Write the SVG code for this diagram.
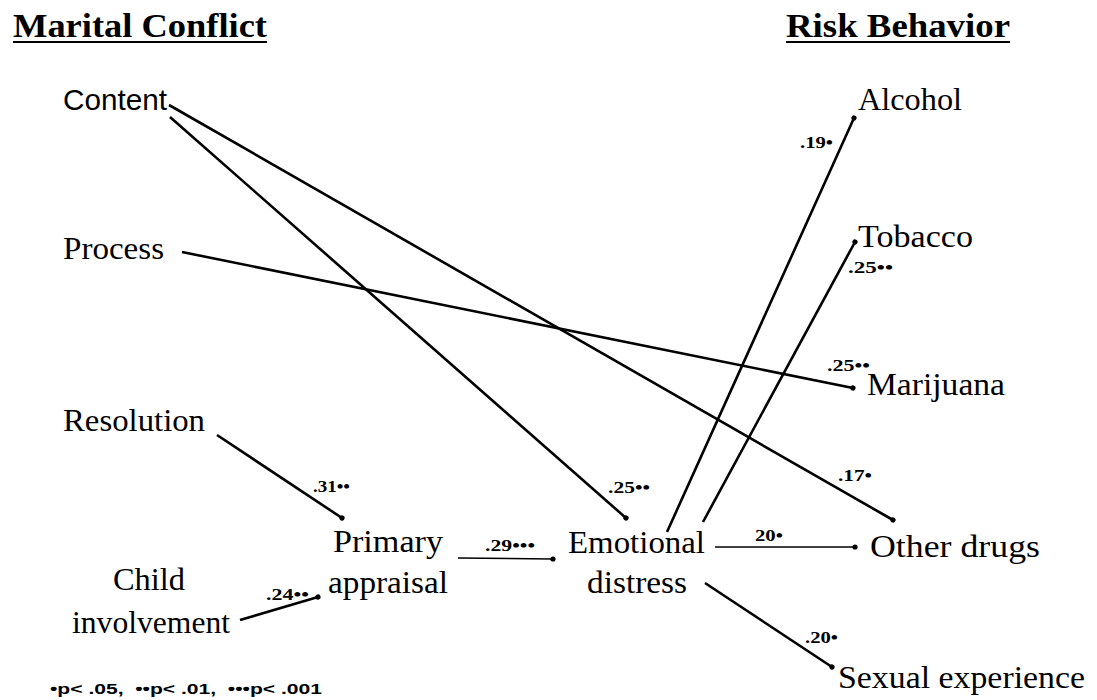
<svg xmlns="http://www.w3.org/2000/svg" width="1097" height="700" viewBox="0 0 1097 700">
<style>
.h{font-family:"Liberation Serif",serif;font-weight:bold;font-size:33px;fill:#000}
.n{font-family:"Liberation Serif",serif;font-size:32px;fill:#000}
.ns{font-family:"Liberation Sans",sans-serif;font-size:29px;fill:#000}
.c{font-family:"Liberation Serif",serif;font-weight:bold;font-size:17px;fill:#000}
.f{font-family:"Liberation Sans",sans-serif;font-weight:bold;font-size:15px;fill:#000}
.thick{stroke:#000;stroke-width:2.6;fill:none;marker-end:url(#dot)}
.thin{stroke:#000;stroke-width:1.6;fill:none;marker-end:url(#dot)}
</style>
<defs>
<marker id="dot" markerUnits="userSpaceOnUse" markerWidth="8" markerHeight="8" refX="4" refY="4" orient="auto">
<circle cx="4" cy="4" r="2.6" fill="#000"/>
</marker>
</defs>
<rect width="1097" height="700" fill="#fff"/>
<g id="heading-marital">
<text class="h" x="13" y="37" textLength="254" lengthAdjust="spacingAndGlyphs">Marital Conflict</text>
<line x1="13" y1="42" x2="267" y2="42" stroke="#000" stroke-width="2"/>
</g>
<g id="heading-risk">
<text class="h" x="786" y="37" textLength="224" lengthAdjust="spacingAndGlyphs">Risk Behavior</text>
<line x1="786" y1="42" x2="1010" y2="42" stroke="#000" stroke-width="2"/>
</g>
<g id="connectors">
<line class="thick" x1="170" y1="117" x2="626" y2="518"/>
<line class="thick" x1="169" y1="105" x2="893" y2="520"/>
<line class="thick" x1="182" y1="252" x2="853" y2="388"/>
<line class="thick" x1="217" y1="435" x2="342" y2="518"/>
<line class="thick" x1="240" y1="620" x2="318" y2="597"/>
<line class="thin" x1="458" y1="558" x2="553" y2="559"/>
<line class="thick" x1="667" y1="532" x2="854" y2="118"/>
<line class="thick" x1="703" y1="522" x2="855" y2="242"/>
<line class="thin" x1="715" y1="547" x2="855" y2="547"/>
<line class="thick" x1="705" y1="583" x2="832" y2="667"/>
</g>
<g id="coefficients">
<text class="c" x="800" y="148" textLength="33" lengthAdjust="spacingAndGlyphs">.19•</text>
<text class="c" x="848" y="273" textLength="45" lengthAdjust="spacingAndGlyphs">.25••</text>
<text class="c" x="827" y="371" textLength="43" lengthAdjust="spacingAndGlyphs">.25••</text>
<text class="c" x="838" y="481" textLength="34" lengthAdjust="spacingAndGlyphs">.17•</text>
<text class="c" x="755" y="541" textLength="28" lengthAdjust="spacingAndGlyphs">20•</text>
<text class="c" x="805" y="643" textLength="33" lengthAdjust="spacingAndGlyphs">.20•</text>
<text class="c" x="313" y="492" textLength="37" lengthAdjust="spacingAndGlyphs">.31••</text>
<text class="c" x="608" y="493" textLength="42" lengthAdjust="spacingAndGlyphs">.25••</text>
<text class="c" x="485" y="551" textLength="50" lengthAdjust="spacingAndGlyphs">.29•••</text>
<text class="c" x="266" y="600" textLength="43" lengthAdjust="spacingAndGlyphs">.24••</text>
</g>
<g id="node-content"><text class="ns" x="63" y="110" textLength="104" lengthAdjust="spacingAndGlyphs">Content</text></g>
<g id="node-process"><text class="n" x="63" y="259" textLength="101" lengthAdjust="spacingAndGlyphs">Process</text></g>
<g id="node-resolution"><text class="n" x="63" y="431" textLength="142" lengthAdjust="spacingAndGlyphs">Resolution</text></g>
<g id="node-child">
<text class="n" x="113" y="590" textLength="72" lengthAdjust="spacingAndGlyphs">Child</text>
<text class="n" x="72" y="633" textLength="158" lengthAdjust="spacingAndGlyphs">involvement</text>
</g>
<g id="node-primary">
<text class="n" x="333" y="552" textLength="110" lengthAdjust="spacingAndGlyphs">Primary</text>
<text class="n" x="328" y="593" textLength="120" lengthAdjust="spacingAndGlyphs">appraisal</text>
</g>
<g id="node-emotional">
<text class="n" x="568" y="553" textLength="137" lengthAdjust="spacingAndGlyphs">Emotional</text>
<text class="n" x="587" y="593" textLength="100" lengthAdjust="spacingAndGlyphs">distress</text>
</g>
<g id="node-alcohol"><text class="n" x="858" y="110" textLength="104" lengthAdjust="spacingAndGlyphs">Alcohol</text></g>
<g id="node-tobacco"><text class="n" x="858" y="247" textLength="115" lengthAdjust="spacingAndGlyphs">Tobacco</text></g>
<g id="node-marijuana"><text class="n" x="867" y="395" textLength="138" lengthAdjust="spacingAndGlyphs">Marijuana</text></g>
<g id="node-otherdrugs"><text class="n" x="870" y="557" textLength="170" lengthAdjust="spacingAndGlyphs">Other drugs</text></g>
<g id="node-sexual"><text class="n" x="838" y="688" textLength="247" lengthAdjust="spacingAndGlyphs">Sexual experience</text></g>
<g id="footnote"><text class="f" x="50" y="694" textLength="272" lengthAdjust="spacingAndGlyphs" xml:space="preserve">•p&lt; .05,  ••p&lt; .01,  •••p&lt; .001</text></g>
</svg>
